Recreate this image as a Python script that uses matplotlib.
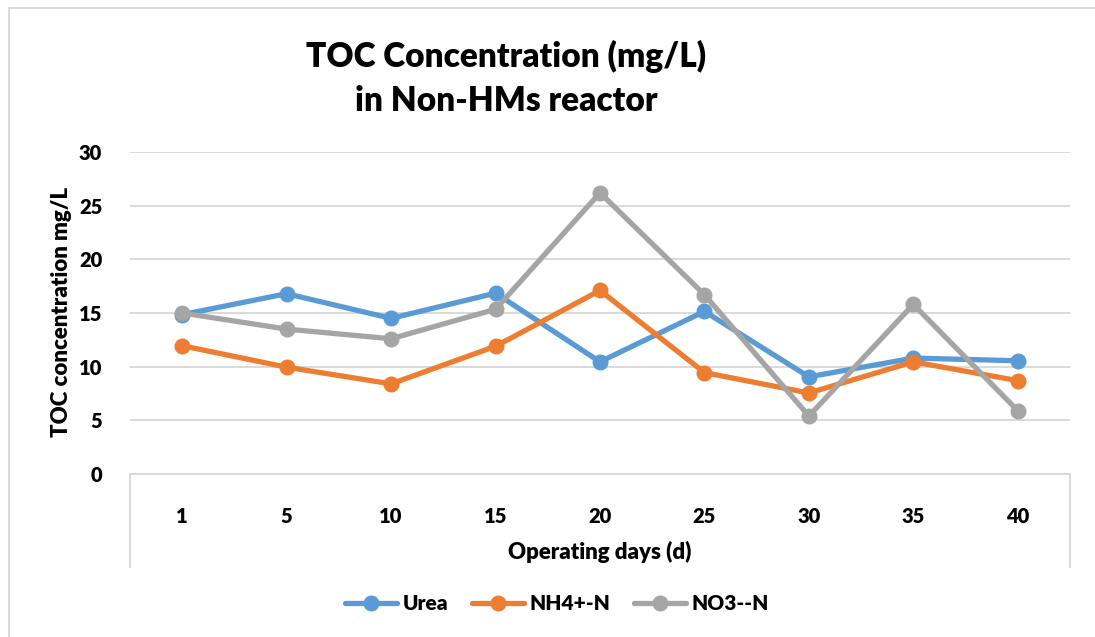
import matplotlib
matplotlib.use("Agg")
import matplotlib.pyplot as plt
from matplotlib.lines import Line2D

days = ["1", "5", "10", "15", "20", "25", "30", "35", "40"]
urea = [14.85, 16.8, 14.5, 16.85, 10.45, 15.15, 9.05, 10.8, 10.55]
nh4 = [11.95, 9.95, 8.4, 11.9, 17.1, 9.45, 7.55, 10.45, 8.7]
no3 = [15.0, 13.5, 12.6, 15.35, 26.2, 16.7, 5.4, 15.8, 5.9]
series_names = ["Urea", "NH4+-N", "NO3--N"]
colors = ["#5B9BD5", "#ED7D31", "#A5A5A5"]
yticks = [0, 5, 10, 15, 20, 25, 30]

plt.rcParams['font.family'] = ['Lato', 'DejaVu Sans']
plt.rcParams['font.weight'] = 'heavy'
WT = 'heavy'

W, H = 1095, 637
fig = plt.figure(figsize=(W / 100, H / 100), dpi=100)

def fx(px):
    return px / W

def fy(py):
    return 1 - py / H

ax = fig.add_axes([fx(130), fy(474), fx(1070) - fx(130), fy(152) - fy(474)])
x = list(range(len(days)))
for vals, name, c in zip([urea, nh4, no3], series_names, colors):
    ax.plot(x, vals, color=c, lw=3.8, marker='o', markersize=10.5,
            label=name, solid_capstyle='round', zorder=3)

ax.set_xlim(-0.5, len(days) - 0.5)
ax.set_ylim(0, 30)
ax.set_yticks(yticks)
ax.set_xticks(x)
ax.set_xticklabels(days, fontweight=WT)
ax.set_yticklabels([str(v) for v in yticks], fontweight=WT)
ax.tick_params(axis='both', length=0, labelsize=14.5, colors='#000000')
ax.tick_params(axis='x', pad=24)
ax.tick_params(axis='y', pad=20)
ax.grid(axis='y', color='#D9D9D9', lw=1.4, zorder=0)
for s in ['top', 'right', 'left']:
    ax.spines[s].set_visible(False)
ax.spines['bottom'].set_color('#D9D9D9')
ax.spines['bottom'].set_linewidth(1.4)
ax.set_axisbelow(True)

# category axis box sides
for px in (130, 1070):
    fig.add_artist(Line2D([fx(px), fx(px)], [fy(474), fy(567)], color='#D9D9D9', lw=1.4))

# figure border (top and left)
fig.add_artist(Line2D([fx(9), 1], [fy(8), fy(8)], color='#D9D9D9', lw=1.4))
fig.add_artist(Line2D([fx(9), fx(9)], [fy(8), 0], color='#D9D9D9', lw=1.4))

fig.text(fx(506), fy(56), "TOC Concentration (mg/L)", ha='center', va='center',
         fontsize=24, fontweight=WT)
fig.text(fx(506), fy(101), "in Non-HMs reactor", ha='center', va='center',
         fontsize=24, fontweight=WT)
fig.text(fx(61), fy(312), "TOC concentration mg/L", rotation=90, ha='center', va='center',
         fontsize=16, fontweight=WT)
fig.text(fx(600), fy(552), "Operating days (d)", ha='center', va='center',
         fontsize=16, fontweight=WT)

handles, labels = ax.get_legend_handles_labels()
fig.legend(handles, labels, loc='center', bbox_to_anchor=(fx(557), fy(604)), ncol=3,
           frameon=False, prop={'size': 15, 'weight': WT}, handlelength=2.5,
           columnspacing=1.1, handletextpad=0.3)

fig.savefig("out.png", dpi=100)
